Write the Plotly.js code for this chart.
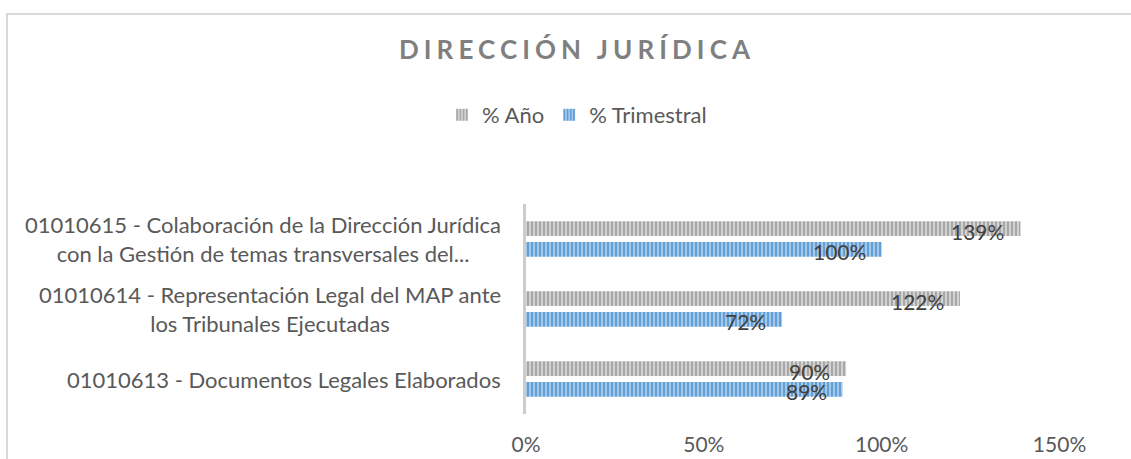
<!DOCTYPE html>
<html>
<head>
<meta charset="utf-8">
<script src="https://cdn.plot.ly/plotly-3.0.1.min.js"></script>
<style>
  html, body { margin: 0; padding: 0; background: #ffffff; }
  #chart { width: 1131px; height: 459px; }
</style>
</head>
<body>
<div id="chart"></div>
<script>
// ---------- data ----------
const categories = [
  '01010613 - Documentos Legales Elaborados',
  '01010614 - Representación Legal del MAP ante los Tribunales Ejecutadas',
  '01010615 - Colaboración de la Dirección Jurídica con la Gestión de temas transversales del...'
];
const categoryLabels = [
  '01010613 - Documentos Legales Elaborados',
  '01010614 - Representación Legal del MAP ante<br>los Tribunales Ejecutadas',
  '01010615 - Colaboración de la Dirección Jurídica<br>con la Gestión de temas transversales del...'
];
const seriesNames = ['% Año', '% Trimestral'];
const anioValues = [90, 122, 139];
const trimestralValues = [89, 72, 100];
const tickValues = [0, 50, 100, 150];
const tickLabels = ['0%', '50%', '100%', '150%'];
const chartTitle = 'DIRECCIÓN JURÍDICA';

// ---------- styling ----------
const FONT = 'Lato, "Open Sans", sans-serif';
const grayLight = '#d2d2d2', grayDark = '#a3a3a3';
const blueLight = '#a4c8ea', blueDark = '#5b9bd5';

const W = 1131, H = 459;
const M = { l: 526, r: 18, t: 204, b: 45 };
const plotW = W - M.l - M.r, plotH = H - M.t - M.b;
const pxToPaperX = px => (px - M.l) / plotW;
const pxToPaperY = py => (H - M.b - py) / plotH;

const traces = [
  {
    type: 'bar', orientation: 'h', name: seriesNames[1],
    y: categories, x: trimestralValues,
    marker: { color: blueLight, line: { width: 0 },
      pattern: { shape: '|', fgcolor: blueDark, bgcolor: blueLight, size: 4, solidity: 0.45 } },
    legendrank: 2, hoverinfo: 'skip'
  },
  {
    type: 'bar', orientation: 'h', name: seriesNames[0],
    y: categories, x: anioValues,
    marker: { color: grayLight, line: { width: 0 },
      pattern: { shape: '|', fgcolor: grayDark, bgcolor: grayLight, size: 4, solidity: 0.45 } },
    legendrank: 1, hoverinfo: 'skip'
  }
];

const annotations = [];
// category labels (right-aligned block, centered lines)
categories.forEach((c, i) => {
  annotations.push({
    xref: 'paper', yref: 'y', x: pxToPaperX(503), y: i,
    xanchor: 'right', yanchor: 'middle', align: 'center',
    text: categoryLabels[i], showarrow: false,
    font: { family: FONT, size: 22, color: '#595959' }
  });
});
// data labels
categories.forEach((c, i) => {
  annotations.push({
    xref: 'x', yref: 'y', x: anioValues[i], y: i, xanchor: 'right', yanchor: 'middle',
    xshift: -14, yshift: 8, text: anioValues[i] + '%', showarrow: false,
    font: { family: FONT, size: 21, color: '#404040' }
  });
  annotations.push({
    xref: 'x', yref: 'y', x: trimestralValues[i], y: i, xanchor: 'right', yanchor: 'middle',
    xshift: -14, yshift: -12.5, text: trimestralValues[i] + '%', showarrow: false,
    font: { family: FONT, size: 21, color: '#404040' }
  });
});

const layout = {
  width: W, height: H,
  margin: M,
  paper_bgcolor: '#ffffff', plot_bgcolor: '#ffffff',
  font: { family: FONT, color: '#595959' },
  title: {
    text: chartTitle, xref: 'container', yref: 'container',
    x: 574.5 / W, y: 1 - 50 / H, xanchor: 'center', yanchor: 'middle',
    font: { family: FONT, size: 26, color: '#7f7f7f', weight: 'bold' }
  },
  barmode: 'group', bargap: 0.41, bargroupgap: 0.29,
  showlegend: true,
  legend: {
    orientation: 'h', xref: 'container', yref: 'container',
    x: 577 / W, y: 1 - 115 / H, xanchor: 'center', yanchor: 'middle',
    font: { family: FONT, size: 22, color: '#595959' },
    itemwidth: 30, tracegroupgap: 0
  },
  xaxis: {
    range: [0, plotW / 3.557], showgrid: false, zeroline: false, showline: false,
    tickvals: tickValues, ticktext: tickLabels, ticks: '', ticklabelstandoff: 16,
    tickfont: { family: FONT, size: 21, color: '#595959' }, fixedrange: true
  },
  yaxis: {
    type: 'category', categoryorder: 'array', categoryarray: categories,
    range: [-0.5, 2.5],
    showticklabels: false, showgrid: false, zeroline: false,
    showline: true, linecolor: '#cccccc', linewidth: 3, ticks: '', fixedrange: true
  },
  annotations: annotations,
  shapes: [{
    type: 'rect', xref: 'paper', yref: 'paper', layer: 'below',
    x0: pxToPaperX(7), x1: pxToPaperX(1300), y0: pxToPaperY(600), y1: pxToPaperY(14),
    line: { color: '#d9d9d9', width: 2 }, fillcolor: 'rgba(0,0,0,0)'
  }]
};

Plotly.newPlot('chart', traces, layout, { displayModeBar: false, staticPlot: true }).then(gd => {
  const t = gd.querySelector('.gtitle');
  if (t) {
    const target = 351;
    const w0 = t.getComputedTextLength();
    const n = chartTitle.length;
    const ls = Math.max(0, (target - w0) / (n - 1));
    t.style.letterSpacing = ls + 'px';
    const x = parseFloat(t.getAttribute('x'));
    t.setAttribute('x', x + ls / 2);
  }
});
</script>
</body>
</html>
